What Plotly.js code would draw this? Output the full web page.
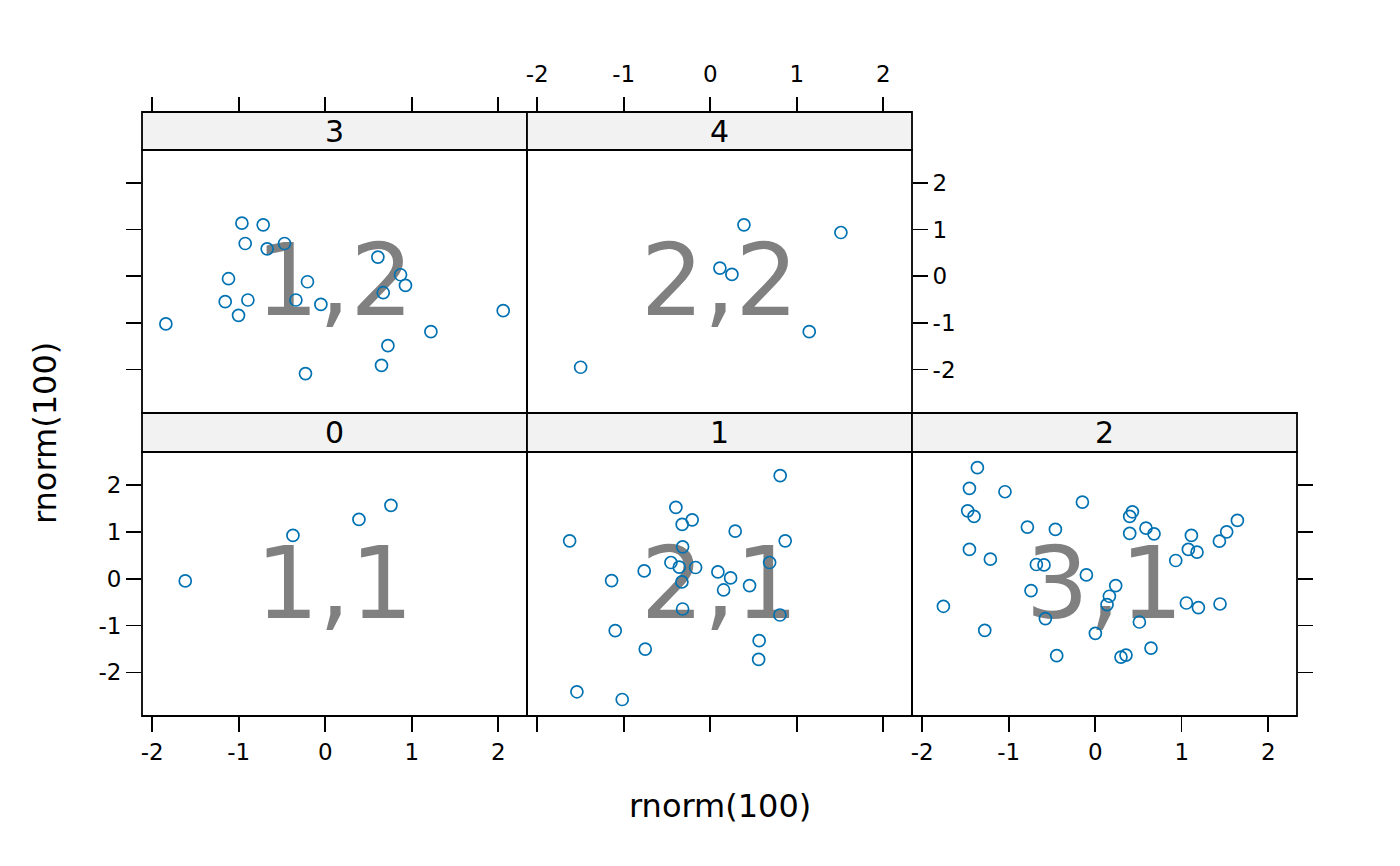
<!DOCTYPE html>
<html>
<head>
<meta charset="utf-8">
<script src="https://cdn.plot.ly/plotly-3.0.1.min.js"></script>
<style>html,body{margin:0;padding:0;background:#fff;}#chart{width:1400px;height:866px;}</style>
</head>
<body>
<div id="chart"></div>
<script>
// ---- data ----
const stripLabels = ["0", "1", "2", "3", "4"];
const panelLabels = ["1,1", "2,1", "3,1", "1,2", "2,2"];
const tickVals = [-2, -1, 0, 1, 2];
const tickText = ["-2", "-1", "0", "1", "2"];
const xTitle = "rnorm(100)";
const yTitle = "rnorm(100)";

const p11x = [-1.618, -0.373, 0.390, 0.760];
const p11y = [-0.047, 0.924, 1.266, 1.566];

const p21x = [0.809, -0.397, -0.208, -0.324, 0.289, -1.625, 0.867, -0.319, 0.687, -0.454, -0.358, -0.169, -0.763, 0.089, 0.236, -1.140, -0.327, 0.455, 0.155, -0.319, 0.806, -1.098, 0.566, -0.751, 0.560, -1.541, -1.017];
const p21y = [2.199, 1.523, 1.258, 1.159, 1.016, 0.809, 0.809, 0.680, 0.346, 0.346, 0.246, 0.240, 0.167, 0.145, 0.017, -0.039, -0.068, -0.146, -0.240, -0.646, -0.774, -1.108, -1.322, -1.502, -1.722, -2.413, -2.578];

const p31x = [-1.362, -1.454, -1.043, -0.148, -1.474, -1.401, 0.430, 0.399, 1.644, -0.784, -0.460, 0.587, 0.399, 0.680, 1.520, 1.112, 1.436, 1.077, 1.177, -1.454, -1.212, 0.931, -0.680, -0.592, -0.102, -0.742, 0.237, 0.164, 0.137, -1.755, 1.054, 1.193, 1.443, -0.576, 0.511, -1.277, 0.002, 0.645, -0.445, 0.298, 0.356];
const p31y = [2.370, 1.929, 1.857, 1.636, 1.450, 1.330, 1.429, 1.330, 1.245, 1.102, 1.052, 1.080, 0.967, 0.958, 1.001, 0.924, 0.802, 0.625, 0.567, 0.625, 0.417, 0.389, 0.304, 0.295, 0.081, -0.252, -0.146, -0.374, -0.552, -0.588, -0.518, -0.616, -0.539, -0.851, -0.924, -1.102, -1.166, -1.480, -1.643, -1.673, -1.630];

const p12x = [-0.963, -0.717, -0.925, -0.671, -0.470, 0.609, -1.118, -0.205, 0.871, 0.928, 0.671, -1.156, -0.894, -0.339, -0.050, -1.002, -1.842, 2.058, 1.222, 0.725, 0.651, -0.228];
const p12y = [1.138, 1.102, 0.702, 0.588, 0.702, 0.411, -0.053, -0.118, 0.032, -0.197, -0.353, -0.545, -0.509, -0.509, -0.603, -0.838, -1.022, -0.738, -1.187, -1.487, -1.908, -2.086];

const p22x = [0.390, 1.511, 0.112, 0.251, 1.145, -1.498];
const p22y = [1.102, 0.937, 0.175, 0.039, -1.187, -1.950];

const panelX = [p11x, p21x, p31x, p12x, p22x];
const panelY = [p11y, p21y, p31y, p12y, p22y];

// ---- layout geometry (pixels) ----
const W = 1400, H = 866;
const cols = [[142, 527], [527, 912], [912, 1297]];
const rows = { bottom: { plot: [452, 716], strip: [413, 452] }, top: { plot: [150, 413], strip: [112, 150] } };
const panelPos = [
  { c: 0, r: "bottom" }, { c: 1, r: "bottom" }, { c: 2, r: "bottom" },
  { c: 0, r: "top" }, { c: 1, r: "top" }
];
const xRange = [-2.118, 2.333];
const yRange = [-2.93, 2.705];
const labelShiftPx = 9;   // visual centring of the big grey label

const px = v => v / W;
const py = v => 1 - v / H;

const FONT = "DejaVu Sans";
const ptColor = "#0072B2";
const LW = 1.8;

const traces = [];
const layout = {
  width: W, height: H,
  margin: { l: 0, r: 0, t: 0, b: 0 },
  paper_bgcolor: "#ffffff", plot_bgcolor: "rgba(0,0,0,0)",
  showlegend: false, hovermode: false,
  font: { family: FONT, size: 23, color: "#000" },
  shapes: [], annotations: []
};

const axCfg = [
  { xt: true, xl: true, xs: "bottom", yt: true, yl: true, ys: "left" },
  { xt: true, xl: false, xs: "bottom", yt: false, yl: false, ys: "left" },
  { xt: true, xl: true, xs: "bottom", yt: true, yl: false, ys: "right" },
  { xt: true, xl: false, xs: "top", yt: true, yl: false, ys: "left" },
  { xt: true, xl: true, xs: "top", yt: true, yl: true, ys: "right" }
];

panelPos.forEach((p, i) => {
  const n = i + 1;
  const xk = n === 1 ? "xaxis" : "xaxis" + n;
  const yk = n === 1 ? "yaxis" : "yaxis" + n;
  const xr = n === 1 ? "x" : "x" + n;
  const yr = n === 1 ? "y" : "y" + n;
  const col = cols[p.c];
  const row = rows[p.r];
  const cfg = axCfg[i];

  const xa = {
    domain: [px(col[0]), px(col[1])],
    range: xRange, showgrid: false, zeroline: false, showline: false,
    ticks: cfg.xt ? "outside" : "", ticklen: 15, tickwidth: 1.6, tickcolor: "#000",
    tickmode: "array", tickvals: tickVals, ticktext: tickText,
    showticklabels: cfg.xl, tickfont: { family: FONT, size: 23, color: "#000" },
    side: cfg.xs, fixedrange: true
  };
  if (cfg.xs === "top") {
    xa.anchor = "free";
    xa.position = py(row.strip[0]);
    xa.ticklabelstandoff = 6;
  } else {
    xa.anchor = yr;
  }
  const ya = {
    domain: [py(row.plot[1]), py(row.plot[0])],
    range: yRange, showgrid: false, zeroline: false, showline: false,
    ticks: cfg.yt ? "outside" : "", ticklen: 15, tickwidth: 1.6, tickcolor: "#000",
    tickmode: "array", tickvals: tickVals, ticktext: tickText,
    showticklabels: cfg.yl, tickfont: { family: FONT, size: 23, color: "#000" },
    side: cfg.ys, anchor: xr, fixedrange: true
  };
  layout[xk] = xa;
  layout[yk] = ya;

  const plotH = row.plot[1] - row.plot[0];
  const yUnitsPerPx = (yRange[1] - yRange[0]) / plotH;
  traces.push({
    type: "scatter", mode: "text", xaxis: xr, yaxis: yr,
    x: [(xRange[0] + xRange[1]) / 2],
    y: [(yRange[0] + yRange[1]) / 2 - labelShiftPx * yUnitsPerPx],
    text: [panelLabels[i]], textposition: "middle center",
    textfont: { family: FONT, size: 99, color: "#808080" },
    hoverinfo: "skip", cliponaxis: false
  });
  traces.push({
    type: "scatter", mode: "markers", xaxis: xr, yaxis: yr,
    x: panelX[i], y: panelY[i],
    marker: { symbol: "circle-open", size: 12, color: ptColor, line: { width: 1.7, color: ptColor } },
    cliponaxis: false
  });

  layout.shapes.push({
    type: "rect", xref: "paper", yref: "paper",
    x0: px(col[0]), x1: px(col[1]), y0: py(row.plot[1]), y1: py(row.plot[0]),
    line: { color: "#000", width: LW }, fillcolor: "rgba(0,0,0,0)", layer: "above"
  });
  layout.shapes.push({
    type: "rect", xref: "paper", yref: "paper",
    x0: px(col[0]), x1: px(col[1]), y0: py(row.strip[1]), y1: py(row.strip[0]),
    line: { color: "#000", width: LW }, fillcolor: "#F2F2F2", layer: "below"
  });
  layout.annotations.push({
    xref: "paper", yref: "paper",
    x: px((col[0] + col[1]) / 2), y: py((row.strip[0] + row.strip[1]) / 2),
    text: stripLabels[i], showarrow: false, xanchor: "center", yanchor: "middle",
    font: { family: FONT, size: 30, color: "#000" }
  });
});

layout.annotations.push({
  xref: "paper", yref: "paper", x: px(719.5), y: py(806),
  text: xTitle, showarrow: false, xanchor: "center", yanchor: "middle",
  font: { family: FONT, size: 32, color: "#000" }
});
layout.annotations.push({
  xref: "paper", yref: "paper", x: px(45), y: py(433),
  text: yTitle, showarrow: false, xanchor: "center", yanchor: "middle", textangle: -90,
  font: { family: FONT, size: 32, color: "#000" }
});

Plotly.newPlot("chart", traces, layout, { displayModeBar: false, staticPlot: true });
</script>
</body>
</html>
